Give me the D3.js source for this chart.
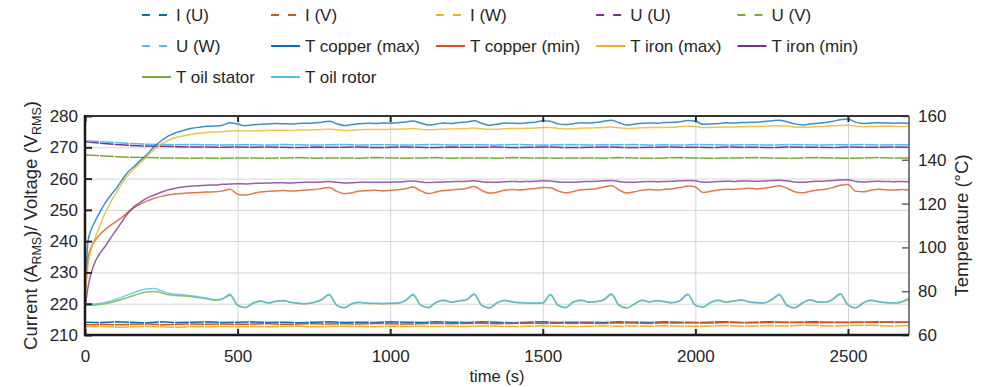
<!DOCTYPE html>
<html>
<head>
<meta charset="utf-8">
<script src="https://cdn.jsdelivr.net/npm/d3@7"></script>
<style>
  body { margin: 0; background: #fff; }
  svg { font-family: "Liberation Sans", Arial, Helvetica, sans-serif; }
</style>
</head>
<body>
<svg id="chart" width="984" height="387"></svg>
<script>
// sample times (s) for the temperature traces
const timeT = [0, 10, 20, 35, 50, 65, 80, 100, 120, 140, 160, 180,
  200, 225, 250, 275, 300, 325, 350, 375, 400, 425, 450, 475,
  500, 525, 550, 575, 600, 625, 650, 675, 700, 725, 750, 775,
  800, 825, 850, 875, 900, 925, 950, 975, 1000, 1025, 1050, 1075,
  1100, 1125, 1150, 1175, 1200, 1225, 1250, 1275, 1300, 1325, 1350, 1375,
  1400, 1425, 1450, 1475, 1500, 1525, 1550, 1575, 1600, 1625, 1650, 1675,
  1700, 1725, 1750, 1775, 1800, 1825, 1850, 1875, 1900, 1925, 1950, 1975,
  2000, 2025, 2050, 2075, 2100, 2125, 2150, 2175, 2200, 2225, 2250, 2275,
  2300, 2325, 2350, 2375, 2400, 2425, 2450, 2475, 2500, 2525, 2550, 2575,
  2600, 2625, 2650, 2675, 2700];

const copperMax = [78, 103, 108, 112.5, 116.5, 120, 123, 126.5, 130.5, 134.3, 136.8, 139.5,
  142, 145.8, 148.7, 151, 152.5, 153.5, 154.4, 154.9, 155.3, 155.4, 155.8, 156.9,
  156.3, 155.6, 156, 156.2, 156.4, 156.6, 156.5, 156.3, 156.6, 156.7, 156.8, 157.2,
  157.6, 156.5, 155.7, 156.1, 156.5, 156.7, 156.6, 156.8, 156.7, 156.9, 157.3, 157.7,
  156.8, 155.9, 156.3, 156.8, 156.6, 157, 157.3, 157.8, 156.7, 155.8, 156.2, 156.8,
  156.7, 156.6, 156.9, 157.2, 157.8, 157.6, 156.4, 156.1, 156.5, 156.9, 156.8, 157.1,
  157.6, 158.1, 156.9, 155.9, 156.3, 156.7, 156.8, 156.7, 157, 157.1, 157.4, 157.9,
  157.6, 156.2, 156.4, 156.6, 156.9, 156.8, 157, 157.1, 157.2, 157.5, 157.8, 158.1,
  157.4, 156.4, 155.9, 156.3, 156.7, 157, 157.6, 158.3, 158.6, 157.2, 156.6, 156.8,
  156.9, 156.8, 156.7, 156.8, 156.6];

const copperMin = [77, 95, 100, 103.5, 106, 108, 109.7, 111.7, 113.6, 116, 118, 119.7,
  121, 122.3, 123.3, 124, 124.5, 124.7, 124.9, 125.1, 125.3, 125.4, 125.7, 126.5,
  124.3, 123.9, 124.6, 125.3, 125.6, 125.8, 126, 125.7, 125.9, 126.2, 126.4, 126.9,
  127.4, 125.6, 124.5, 125, 125.7, 125.9, 126.1, 125.8, 126, 126.3, 126.8, 127.6,
  125.8, 124.6, 125.3, 126, 126.2, 126.5, 126.9, 127.8, 126, 124.8, 125.2, 126.1,
  126.4, 126.2, 126.6, 126.9, 127.3, 127.2, 125.8, 124.9, 125.5, 126.3, 126.5, 126.8,
  127.6, 128.2, 126.3, 124.8, 125.4, 126.1, 126.4, 126.2, 126.5, 126.8, 127.3, 128,
  127.6, 125.1, 125.6, 126.2, 126.6, 126.4, 126.8, 127, 126.7, 127, 127.6, 128.1,
  127.1, 125.4, 124.9, 125.6, 126.2, 126.5, 127.3, 128.4, 128.7, 125.7, 125.4, 126.1,
  126.5, 126.3, 126.2, 126.4, 126.2];

const ironMax = [76, 92, 99, 105, 110.5, 115.5, 119.5, 124.5, 129, 132.8, 135.8, 138.5,
  141, 144.5, 147, 149, 150.3, 151, 151.7, 152.1, 152.5, 152.7, 152.9, 153.2,
  153.3, 153.1, 153.2, 153.3, 153.4, 153.5, 153.5, 153.4, 153.6, 153.6, 153.7, 153.8,
  154, 153.7, 153.4, 153.5, 153.7, 153.8, 153.8, 153.8, 153.9, 154, 154.1, 154.3,
  154, 153.7, 153.8, 154, 154.1, 154.2, 154.3, 154.5, 154.2, 153.9, 154, 154.2,
  154.3, 154.3, 154.4, 154.5, 154.7, 154.7, 154.3, 154.1, 154.2, 154.4, 154.5, 154.6,
  154.8, 155, 154.6, 154.3, 154.4, 154.6, 154.7, 154.7, 154.8, 154.9, 155.1, 155.3,
  155.2, 154.7, 154.8, 154.9, 155, 155, 155.1, 155.2, 155.2, 155.3, 155.5, 155.6,
  155.4, 155, 154.9, 155, 155.2, 155.3, 155.5, 155.7, 155.8, 155.3, 155.1, 155.2,
  155.3, 155.3, 155.3, 155.2, 155.2];

const ironMin = [72, 82, 88, 94, 97.5, 100.3, 103.5, 107.5, 111.5, 115.5, 118.5, 120.5,
  122.3, 123.8, 125.2, 126.3, 127.1, 127.7, 128, 128.2, 128.4, 128.5, 128.8, 129,
  129.1, 129, 129.2, 129.3, 129.4, 129.5, 129.5, 129.4, 129.6, 129.7, 129.7, 129.9,
  130.1, 129.7, 129.4, 129.5, 129.7, 129.8, 129.8, 129.7, 129.8, 129.9, 130.1, 130.3,
  129.9, 129.6, 129.7, 129.9, 130, 130.1, 130.2, 130.4, 130, 129.7, 129.8, 130,
  130.1, 130, 130.1, 130.2, 130.4, 130.3, 129.9, 129.7, 129.8, 130, 130.1, 130.2,
  130.4, 130.6, 130.1, 129.7, 129.8, 130, 130.1, 130, 130.1, 130.2, 130.4, 130.6,
  130.4, 129.8, 129.9, 130.1, 130.2, 130.1, 130.3, 130.3, 130.2, 130.3, 130.5, 130.7,
  130.4, 129.9, 129.8, 130, 130.2, 130.3, 130.5, 130.8, 130.9, 130.1, 129.9, 130.1,
  130.2, 130.1, 130, 130.1, 130];

const oilStator = [73.6, 73.6, 73.6, 73.7, 74, 74.3, 74.7, 75.4, 76.2, 77.1, 78, 78.9,
  79.6, 79.9, 79.3, 78.4, 78, 77.8, 77.5, 77, 76.5, 75.9, 76.3, 78.2,
  73.5, 72.5, 74.4, 75.4, 74.6, 75.3, 75.6, 74.9, 74.4, 74.3, 74.8, 76.1,
  78.3, 73.5, 72.4, 74.3, 74.8, 74.5, 74.4, 74.3, 74.4, 74.5, 75.6, 78.3,
  73.5, 72.5, 74.8, 75.8, 75, 75.5, 76, 78.5, 73.5, 72.3, 74.6, 75.7,
  75.1, 74.7, 74.5, 74.5, 74.6, 78.3, 73.5, 72.5, 75, 75.8, 75, 75.2,
  76, 78.5, 73.5, 72.3, 74.1, 75.8, 75.1, 75.6, 75.2, 74.7, 75.6, 78.4,
  73.5, 72.7, 74.8, 75.8, 75, 75.4, 75.9, 75.1, 74.7, 74.6, 76, 78.3,
  73.5, 72.3, 74.5, 75.9, 75.1, 74.9, 76.2, 78.6, 73.7, 72.3, 74.6, 75.8,
  75.2, 74.7, 74.6, 75, 76.3];

const oilRotor = [74, 74, 74, 74.1, 74.5, 74.9, 75.3, 76.2, 77.2, 78.3, 79.3, 80.3,
  81, 81.2, 80.2, 79, 78.6, 78.3, 77.9, 77.3, 76.8, 76.1, 76.6, 78.6,
  73.6, 72.6, 74.6, 75.6, 74.7, 75.5, 75.8, 75, 74.5, 74.4, 74.9, 76.3,
  78.6, 73.6, 72.5, 74.4, 74.9, 74.6, 74.5, 74.4, 74.5, 74.6, 75.8, 78.6,
  73.6, 72.6, 75, 76, 75.1, 75.7, 76.2, 78.8, 73.6, 72.4, 74.8, 75.9,
  75.2, 74.8, 74.6, 74.6, 74.7, 78.6, 73.6, 72.6, 75.2, 76, 75.1, 75.3,
  76.2, 78.8, 73.6, 72.4, 74.2, 76, 75.2, 75.8, 75.3, 74.8, 75.8, 78.7,
  73.6, 72.8, 75, 76, 75.1, 75.6, 76.1, 75.2, 74.8, 74.7, 76.2, 78.6,
  73.6, 72.4, 74.6, 76.1, 75.2, 75, 76.4, 78.9, 73.8, 72.4, 74.8, 76,
  75.3, 74.8, 74.7, 75.2, 77];

// sample times (s) for the electrical traces
const timeE = [0, 50, 100, 150, 200, 250, 300, 350, 400, 450, 500,
  550, 600, 650, 700, 750, 800, 850, 900, 950, 1000, 1050,
  1100, 1150, 1200, 1250, 1300, 1350, 1400, 1450, 1500, 1550, 1600,
  1650, 1700, 1750, 1800, 1850, 1900, 1950, 2000, 2050, 2100, 2150,
  2200, 2250, 2300, 2350, 2400, 2450, 2500, 2550, 2600, 2650, 2700];

const currentU = [214.1, 214.0, 214.2, 214.1, 213.9, 214.2, 214.0, 214.1, 214.2, 214.0, 214.1,
  214.2, 214.0, 214.1, 213.9, 214.1, 214.2, 214.0, 214.1, 214.0, 214.2, 214.1,
  214.0, 214.2, 214.1, 214.0, 214.2, 214.1, 213.9, 214.1, 214.2, 214.0, 214.1,
  214.1, 214.0, 214.2, 214.1, 214.0, 214.2, 214.1, 214.0, 214.1, 214.2, 214.0,
  214.1, 214.2, 214.0, 214.1, 214.2, 214.0, 214.1, 214.1, 214.2, 214.0, 214.1];

const currentV = [213.3, 213.4, 213.3, 213.4, 213.5, 213.3, 213.4, 213.5, 213.4, 213.5, 213.4,
  213.5, 213.6, 213.4, 213.5, 213.6, 213.5, 213.6, 213.5, 213.7, 213.6, 213.5,
  213.6, 213.7, 213.6, 213.7, 213.8, 213.6, 213.7, 213.8, 213.7, 213.8, 213.7,
  213.8, 213.7, 213.9, 213.8, 213.7, 213.9, 213.8, 213.9, 213.8, 214.0, 213.9,
  213.9, 214.0, 214.1, 214.0, 213.9, 214.1, 214.0, 214.1, 214.0, 214.2, 214.1];

const currentW = [212.6, 212.7, 212.5, 212.6, 212.7, 212.6, 212.5, 212.7, 212.6, 212.7, 212.6,
  212.7, 212.6, 212.7, 212.8, 212.6, 212.7, 212.8, 212.7, 212.6, 212.8, 212.7,
  212.8, 212.7, 212.8, 212.7, 212.9, 212.8, 212.7, 212.8, 212.9, 212.8, 212.7,
  212.8, 212.9, 212.8, 212.9, 212.8, 213.0, 212.9, 212.8, 212.9, 213.0, 212.9,
  212.9, 213.0, 212.9, 213.1, 213.0, 212.9, 213.0, 213.1, 213.0, 212.9, 213.0];

const voltageU = [271.8, 271.3, 270.9, 270.6, 270.4, 270.3, 270.2, 270.1, 270.1, 270.0, 270.1,
  270.0, 270.1, 270.0, 269.9, 270.1, 270.0, 270.0, 270.1, 269.9, 270.0, 270.1,
  270.0, 269.9, 270.1, 270.0, 270.0, 270.1, 269.9, 270.0, 270.1, 270.0, 269.9,
  270.0, 270.1, 270.0, 269.9, 270.0, 270.1, 270.0, 270.0, 269.9, 270.1, 270.0,
  270.0, 269.9, 270.1, 270.0, 270.0, 269.9, 270.1, 270.0, 270.0, 270.1, 270.0];

const voltageV = [267.6, 267.3, 267.0, 266.8, 266.7, 266.6, 266.6, 266.5, 266.6, 266.5, 266.6,
  266.6, 266.5, 266.6, 266.7, 266.5, 266.6, 266.6, 266.5, 266.7, 266.6, 266.5,
  266.6, 266.7, 266.5, 266.6, 266.6, 266.5, 266.7, 266.6, 266.6, 266.5, 266.6,
  266.6, 266.5, 266.7, 266.6, 266.5, 266.6, 266.7, 266.6, 266.5, 266.6, 266.6,
  266.7, 266.6, 266.5, 266.6, 266.7, 266.6, 266.5, 266.6, 266.7, 266.6, 266.6];

const voltageW = [272.1, 271.8, 271.5, 271.2, 271.0, 270.9, 270.8, 270.9, 270.8, 270.7, 270.8,
  270.8, 270.7, 270.9, 270.8, 270.7, 270.8, 270.9, 270.7, 270.8, 270.8, 270.7,
  270.8, 270.9, 270.7, 270.8, 270.8, 270.7, 270.9, 270.8, 270.7, 270.8, 270.9,
  270.7, 270.8, 270.8, 270.9, 270.7, 270.8, 270.7, 270.9, 270.8, 270.7, 270.8,
  270.8, 270.7, 270.9, 270.8, 270.7, 270.8, 270.8, 270.9, 270.7, 270.8, 270.8];

const leftTicks = [210, 220, 230, 240, 250, 260, 270, 280];
const rightTicks = [60, 80, 100, 120, 140, 160];
const timeTicks = [0, 500, 1000, 1500, 2000, 2500];

const legendLabels = ["I (U)", "I (V)", "I (W)", "U (U)", "U (V)", "U (W)",
  "T copper (max)", "T copper (min)", "T iron (max)", "T iron (min)",
  "T oil stator", "T oil rotor"];

const palette = ["#0072BD", "#D95319", "#EDB120", "#7E2F8E", "#77AC30", "#4DBEEE"];

const series = [
  {t: timeE, v: currentU, side: "left", c: 0, dash: true},
  {t: timeE, v: currentV, side: "left", c: 1, dash: true},
  {t: timeE, v: currentW, side: "left", c: 2, dash: true},
  {t: timeE, v: voltageU, side: "left", c: 3, dash: true},
  {t: timeE, v: voltageV, side: "left", c: 4, dash: true},
  {t: timeE, v: voltageW, side: "left", c: 5, dash: true},
  {t: timeT, v: copperMax, side: "right", c: 0, dash: false},
  {t: timeT, v: copperMin, side: "right", c: 1, dash: false},
  {t: timeT, v: ironMax, side: "right", c: 2, dash: false},
  {t: timeT, v: ironMin, side: "right", c: 3, dash: false},
  {t: timeT, v: oilStator, side: "right", c: 4, dash: false},
  {t: timeT, v: oilRotor, side: "right", c: 5, dash: false}
];
series.forEach((s, i) => s.name = legendLabels[i]);

const W = 984, H = 387;
const margin = {top: 116, right: 75, bottom: 52, left: 85};
const plotW = W - margin.left - margin.right;
const plotH = H - margin.top - margin.bottom;
const tickFont = "17px";
const axisColor = "#262626";

const svg = d3.select("#chart");

const x = d3.scaleLinear().domain([0, 2700]).range([margin.left, margin.left + plotW]);
const yL = d3.scaleLinear().domain([210, 280]).range([margin.top + plotH, margin.top]);
const yR = d3.scaleLinear().domain([60, 160]).range([margin.top + plotH, margin.top]);

svg.append("defs").append("clipPath").attr("id", "plotclip")
  .append("rect")
  .attr("x", margin.left).attr("y", margin.top)
  .attr("width", plotW).attr("height", plotH);

// grid
let grid = svg.append("g").attr("class", "grid");
grid.append("g")
  .attr("transform", "translate(" + margin.left + ",0)")
  .call(d3.axisLeft(yL).tickValues(leftTicks).tickSize(-plotW).tickFormat(""));
grid.append("g")
  .attr("transform", "translate(0," + (margin.top + plotH) + ")")
  .call(d3.axisBottom(x).tickValues(timeTicks).tickSize(-plotH).tickFormat(""));
grid.selectAll(".domain").remove();
grid.selectAll("line").attr("stroke", "#d4d4d4").attr("stroke-width", 1);

// traces (the dashed electrical ones are so noisy they read as solid in the source)
let traces = svg.append("g").attr("clip-path", "url(#plotclip)");
series.forEach(function(s) {
  let y = s.side == "left" ? yL : yR;
  let line = d3.line()
    .x(function(d, i) { return x(s.t[i]); })
    .y(function(d) { return y(d); })
    .curve(s.dash ? d3.curveLinear : d3.curveMonotoneX);
  traces.append("path")
    .datum(s.v)
    .attr("d", line)
    .attr("fill", "none")
    .attr("stroke", palette[s.c])
    .attr("stroke-width", 1.5)
    .attr("stroke-opacity", s.dash ? 1 : 0.78)
    .attr("stroke-dasharray", s.dash ? "14,1" : null);
});

// axes (ticks point inward, as in the source figure)
function styleAxis(g) {
  g.select(".domain").remove();
  g.selectAll(".tick line").attr("stroke", axisColor).attr("stroke-width", 2);
  g.selectAll(".tick text").attr("fill", axisColor).style("font-size", tickFont);
}

svg.append("g")
  .attr("transform", "translate(" + margin.left + ",0)")
  .call(d3.axisLeft(yL).tickValues(leftTicks).tickSizeInner(-7).tickSizeOuter(0).tickPadding(7))
  .call(styleAxis);

svg.append("g")
  .attr("transform", "translate(" + (margin.left + plotW) + ",0)")
  .call(d3.axisRight(yR).tickValues(rightTicks).tickSizeInner(-7).tickSizeOuter(0).tickPadding(9))
  .call(styleAxis)
  .selectAll(".tick line").attr("stroke", "#666").attr("stroke-width", 1.5);

svg.append("g")
  .attr("transform", "translate(0," + (margin.top + plotH) + ")")
  .call(d3.axisBottom(x).tickValues(timeTicks).tickFormat(d3.format("d"))
    .tickSizeInner(-6).tickSizeOuter(0).tickPadding(15))
  .call(styleAxis);

svg.append("g")
  .attr("transform", "translate(0," + margin.top + ")")
  .call(d3.axisTop(x).tickValues(timeTicks).tickSizeInner(-6).tickSizeOuter(0).tickFormat(""))
  .call(styleAxis);

// frame
let frame = svg.append("g").attr("fill", "none");
frame.append("line")
  .attr("x1", margin.left).attr("x2", margin.left + plotW)
  .attr("y1", margin.top).attr("y2", margin.top)
  .attr("stroke", "#333").attr("stroke-width", 2);
frame.append("line")
  .attr("x1", margin.left + plotW).attr("x2", margin.left + plotW)
  .attr("y1", margin.top).attr("y2", margin.top + plotH)
  .attr("stroke", "#555").attr("stroke-width", 1.5);
frame.append("line")
  .attr("x1", margin.left).attr("x2", margin.left)
  .attr("y1", margin.top - 1).attr("y2", margin.top + plotH + 1)
  .attr("stroke", "#1a1a1a").attr("stroke-width", 2.5);
frame.append("line")
  .attr("x1", margin.left - 1).attr("x2", margin.left + plotW)
  .attr("y1", margin.top + plotH).attr("y2", margin.top + plotH)
  .attr("stroke", "#1a1a1a").attr("stroke-width", 2.5);

// axis titles
let leftTitle = svg.append("text")
  .attr("transform", "translate(37," + (margin.top + plotH / 2) + ") rotate(-90)")
  .attr("text-anchor", "middle")
  .attr("fill", axisColor)
  .style("font-size", "18.5px");
leftTitle.append("tspan").text("Current (A");
leftTitle.append("tspan").attr("dy", 4).style("font-size", "12.5px").text("RMS");
leftTitle.append("tspan").attr("dy", -4).text(")/ Voltage (V");
leftTitle.append("tspan").attr("dy", 4).style("font-size", "12.5px").text("RMS");
leftTitle.append("tspan").attr("dy", -4).text(")");

svg.append("text")
  .attr("transform", "translate(968," + (margin.top + plotH / 2) + ") rotate(-90)")
  .attr("text-anchor", "middle")
  .attr("fill", axisColor)
  .style("font-size", "18.5px")
  .text("Temperature (\u00B0C)");

svg.append("text")
  .attr("x", margin.left + plotW / 2)
  .attr("y", 382)
  .attr("text-anchor", "middle")
  .attr("fill", axisColor)
  .style("font-size", "16.5px")
  .text("time (s)");

// legend, 5 columns, row-major like the MATLAB legend
const nCols = 5, rowY = [15, 46, 77], sampleLen = 29, sampleGap = 5, colPad = 16;
let legend = svg.append("g").attr("class", "legend");
let items = legend.selectAll("g.item")
  .data(series)
  .enter().append("g")
  .attr("class", "item");

items.append("line")
  .attr("x1", 0).attr("x2", sampleLen)
  .attr("y1", 0).attr("y2", 0)
  .attr("stroke", function(d) { return palette[d.c]; })
  .attr("stroke-width", 2)
  .attr("stroke-dasharray", function(d) { return d.dash ? "8,9" : null; });

items.append("text")
  .attr("x", sampleLen + sampleGap)
  .attr("dy", "0.35em")
  .attr("fill", axisColor)
  .style("font-size", "17px")
  .text(function(d) { return d.name; });

let colWidth = d3.range(nCols).map(() => 0);
items.each(function(d, i) {
  let w = d3.select(this).select("text").node().getComputedTextLength();
  colWidth[i % nCols] = Math.max(colWidth[i % nCols], sampleLen + sampleGap + w);
});
let totalW = d3.sum(colWidth) + colPad * (nCols - 1);
let colX = [];
let cx = margin.left + plotW / 2 - totalW / 2 + 3;
colWidth.forEach(function(w) { colX.push(cx); cx += w + colPad; });

items.attr("transform", function(d, i) {
  return "translate(" + colX[i % nCols] + "," + rowY[Math.floor(i / nCols)] + ")";
});
</script>
</body>
</html>
